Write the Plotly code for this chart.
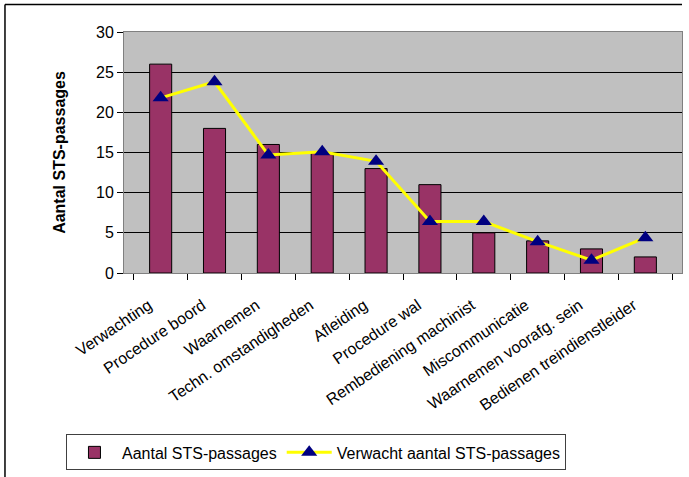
import plotly.graph_objects as go

categories = ["Verwachting", "Procedure boord", "Waarnemen", "Techn. omstandigheden",
              "Afleiding", "Procedure wal", "Rembediening machinist", "Miscommunicatie",
              "Waarnemen voorafg. sein", "Bedienen treindienstleider"]
aantal = [26, 18, 16, 15, 13, 11, 5, 4, 3, 2]
verwacht = [21.8, 23.8, 14.7, 15.1, 13.9, 6.4, 6.4, 3.9, 1.6, 4.4]
y_ticks = [0, 5, 10, 15, 20, 25, 30]

fig = go.Figure()
fig.add_trace(go.Bar(x=categories, y=aantal, name="Aantal STS-passages",
                     marker=dict(color="#993366", line=dict(color="black", width=1))))
fig.add_trace(go.Scatter(x=categories, y=verwacht, name="Verwacht aantal STS-passages",
                         mode="lines+markers",
                         line=dict(color="#FFFF00", width=3),
                         marker=dict(symbol="triangle-up", color="#000080", size=14)))

# outer chart frame: only top and left edges visible in the reference
border = dict(color="black", width=1.5)
fig.update_layout(
    width=689, height=477,
    margin=dict(l=124, r=7, t=32, b=199),
    paper_bgcolor="white", plot_bgcolor="#C0C0C0",
    font=dict(family="Arial, Liberation Sans", size=16, color="black"),
    bargap=0.59,
    showlegend=True,
    legend=dict(orientation="h", x=-0.104, y=-0.67, xanchor="left", yanchor="top",
                bgcolor="white", bordercolor="#404040", borderwidth=1,
                font=dict(size=16), itemwidth=45, tracegroupgap=0),
    shapes=[
        dict(type="line", xref="paper", yref="paper", x0=-0.2133, x1=1.0, y0=1.114, y1=1.114, line=border),
        dict(type="line", xref="paper", yref="paper", x0=-0.2133, x1=-0.2133, y0=-0.9, y1=1.114, line=border),
    ],
)
fig.update_xaxes(tickangle=-34, tickson="boundaries", ticks="outside", ticklen=6,
                 tickcolor="black", showline=True, linecolor="#808080", mirror=True,
                 tickfont=dict(size=16), showgrid=False, automargin=False,
                 ticklabelstandoff=16, ticklabelshift=-12)
fig.update_yaxes(range=[0, 30], tickvals=y_ticks, ticks="outside", ticklen=6,
                 tickcolor="black", showline=True, linecolor="#808080", mirror=True,
                 gridcolor="black", gridwidth=1, zeroline=False, automargin=False,
                 tickfont=dict(size=16),
                 title=dict(text="<b>Aantal STS-passages</b>", font=dict(size=16), standoff=26))

fig.write_html("out.html", config={"displayModeBar": False},
               post_script="document.body.style.margin='0';document.body.style.overflow='hidden';")
